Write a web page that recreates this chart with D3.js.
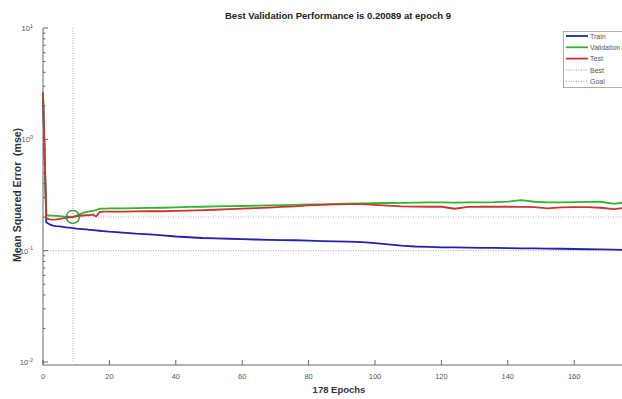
<!DOCTYPE html>
<html><head><meta charset="utf-8">
<script src="https://cdn.jsdelivr.net/npm/d3@7"></script>
<style>body{margin:0;background:#fff;}svg{display:block;font-family:"Liberation Sans",Arial,sans-serif;}</style>
</head><body><svg id="c" width="622" height="399"></svg>
<script>
const epochs = [0,1,2,3,4,5,6,7,8,9,10,11,12,13,14,15,16,17,18,19,20,
  24,28,32,36,40,44,48,52,56,60,64,68,72,76,80,84,88,92,96,100,104,108,112,116,120,
  124,128,132,136,140,144,148,152,156,160,164,168,172,176,178];
const trainVals = [2.5,0.180,0.172,0.168,0.166,0.165,0.1635,0.162,0.161,0.1595,0.158,0.157,0.156,0.155,0.154,0.153,0.152,0.151,0.150,0.149,0.148,
  0.145,0.142,0.140,0.137,0.134,0.132,0.130,0.129,0.128,0.127,0.126,0.125,0.1245,0.124,0.123,0.122,0.121,0.1205,0.1195,0.117,0.114,0.111,0.109,0.108,0.107,
  0.107,0.1065,0.106,0.106,0.1055,0.105,0.105,0.1045,0.104,0.1035,0.103,0.1025,0.102,0.1015,0.101];
const validationVals = [2.6,0.209,0.207,0.206,0.205,0.204,0.203,0.2025,0.202,0.20089,0.206,0.212,0.218,0.222,0.225,0.228,0.231,0.238,0.239,0.239,0.240,
  0.240,0.241,0.242,0.243,0.245,0.247,0.248,0.250,0.251,0.252,0.254,0.255,0.257,0.258,0.260,0.261,0.263,0.265,0.266,0.267,0.268,0.269,0.270,0.271,0.271,
  0.270,0.271,0.272,0.273,0.276,0.284,0.275,0.272,0.272,0.273,0.274,0.275,0.263,0.274,0.275];
const testVals = [2.65,0.195,0.191,0.190,0.191,0.193,0.195,0.197,0.199,0.201,0.203,0.205,0.207,0.208,0.209,0.211,0.203,0.222,0.224,0.224,0.224,
  0.224,0.225,0.226,0.226,0.228,0.229,0.231,0.233,0.236,0.239,0.241,0.244,0.247,0.250,0.255,0.258,0.261,0.262,0.262,0.258,0.254,0.250,0.249,0.248,0.248,
  0.238,0.247,0.248,0.248,0.248,0.247,0.246,0.240,0.245,0.246,0.246,0.243,0.236,0.244,0.245];
const bestEpoch = 9, bestValue = 0.20089, goalValue = 0.1, totalEpochs = 178;
const xTicks = [0,20,40,60,80,100,120,140,160];
const yExponents = [1,0,-1,-2];
const legendLabels = ["Train","Validation","Test","Best","Goal"];

const svg = d3.select("#c");
const x = d3.scaleLinear().domain([0,totalEpochs]).range([43, 43+totalEpochs*3.32]);
const y = d3.scaleLog().domain([0.01,10]).range([362,28]);
const axisCol = "#666", labCol = "#555";

const dot = {stroke:"#aaa", "stroke-width":1, "stroke-dasharray":"1,1.5"};
function applyAttrs(sel,o){for(const k in o) sel.attr(k,o[k]); return sel;}
applyAttrs(svg.append("line").attr("x1",x(bestEpoch)).attr("x2",x(bestEpoch)).attr("y1",y(10)).attr("y2",y(0.01)),dot);
applyAttrs(svg.append("line").attr("x1",x(0)).attr("x2",x(totalEpochs)).attr("y1",y(bestValue)).attr("y2",y(bestValue)),dot);
applyAttrs(svg.append("line").attr("x1",x(0)).attr("x2",x(totalEpochs)).attr("y1",y(goalValue)).attr("y2",y(goalValue)),dot);

const yAxisG = svg.append("g");
yAxisG.append("line").attr("x1",x(0)).attr("x2",x(0)).attr("y1",y(10)).attr("y2",y(0.01)+3).attr("stroke",axisCol).attr("stroke-width",1);
const minor = [];
for (let e=-2;e<1;e++) for (let m=2;m<10;m++) minor.push(m*Math.pow(10,e));
yAxisG.selectAll(".mn").data(minor).join("line").attr("x1",x(0)).attr("x2",x(0)+2.5)
  .attr("y1",d=>y(d)).attr("y2",d=>y(d)).attr("stroke",axisCol);
yAxisG.selectAll(".mj").data(yExponents).join("line").attr("x1",x(0)).attr("x2",x(0)+5)
  .attr("y1",d=>y(Math.pow(10,d))).attr("y2",d=>y(Math.pow(10,d))).attr("stroke",axisCol);
const yl = yAxisG.selectAll(".yl").data(yExponents).join("text").attr("x",x(0)-10).attr("y",d=>y(Math.pow(10,d))+3)
  .attr("text-anchor","end").attr("font-size",7.5).attr("fill",labCol);
yl.append("tspan").text("10");
yl.append("tspan").attr("dy",-3.5).attr("font-size",5.5).text(d=>d);

const xAxisG = svg.append("g");
xAxisG.append("line").attr("x1",x(0)).attr("x2",x(totalEpochs)).attr("y1",y(0.01)+3).attr("y2",y(0.01)+3).attr("stroke",axisCol);
xAxisG.selectAll(".xt").data(xTicks).join("line").attr("x1",d=>x(d)).attr("x2",d=>x(d))
  .attr("y1",y(0.01)+3).attr("y2",y(0.01)-2).attr("stroke",axisCol);
xAxisG.selectAll(".xl").data(xTicks).join("text").attr("x",d=>x(d)).attr("y",379)
  .attr("text-anchor","middle").attr("font-size",7.5).attr("fill",labCol).text(d=>d);

const line = d3.line().x((d,i)=>x(epochs[i])).y(d=>y(d));
const series = [
  {vals:trainVals, col:"#2222b0"},
  {vals:validationVals, col:"#2fb52f"},
  {vals:testVals, col:"#cc3333"}
];
series.forEach(s=>{
  svg.append("path").datum(s.vals).attr("d",line).attr("fill","none")
    .attr("stroke",s.col).attr("stroke-width",1.8).attr("stroke-linejoin","round");
});
svg.append("circle").attr("cx",x(bestEpoch)).attr("cy",y(bestValue)).attr("r",6.5)
  .attr("fill","none").attr("stroke","#2e8b2e").attr("stroke-width",1.3);

svg.append("text").attr("x",338).attr("y",18.5).attr("text-anchor","middle").attr("font-size",9.5)
  .attr("font-weight","bold").attr("fill","#222").text(`Best Validation Performance is ${bestValue} at epoch ${bestEpoch}`);
svg.append("text").attr("transform","translate(21,195) rotate(-90)").attr("text-anchor","middle")
  .attr("font-size",10.5).attr("font-weight","bold").attr("fill","#333").attr("xml:space","preserve").text("Mean Squared Error  (mse)");
svg.append("text").attr("x",339).attr("y",393).attr("text-anchor","middle").attr("font-size",9.5)
  .attr("font-weight","bold").attr("fill","#333").text(`${totalEpochs} Epochs`);

const lg = svg.append("g");
lg.append("rect").attr("x",563.5).attr("y",31.5).attr("width",70).attr("height",56)
  .attr("fill","#fff").attr("stroke","#999").attr("stroke-width",0.8);
const legendStyles = [
  {col:"#2222b0", w:1.8, dash:null},
  {col:"#2fb52f", w:1.8, dash:null},
  {col:"#cc3333", w:1.8, dash:null},
  {col:"#999", w:1, dash:"1,1.5"},
  {col:"#999", w:1, dash:"1,1.5"}
];
legendLabels.forEach((t,i)=>{
  const yy = 36 + i*11.3;
  const l = lg.append("line").attr("x1",566).attr("x2",588).attr("y1",yy).attr("y2",yy)
    .attr("stroke",legendStyles[i].col).attr("stroke-width",legendStyles[i].w);
  if (legendStyles[i].dash) l.attr("stroke-dasharray",legendStyles[i].dash);
  lg.append("text").attr("x",590).attr("y",yy+2.6).attr("font-size",7).attr("fill","#555").text(t);
});
</script></body></html>
